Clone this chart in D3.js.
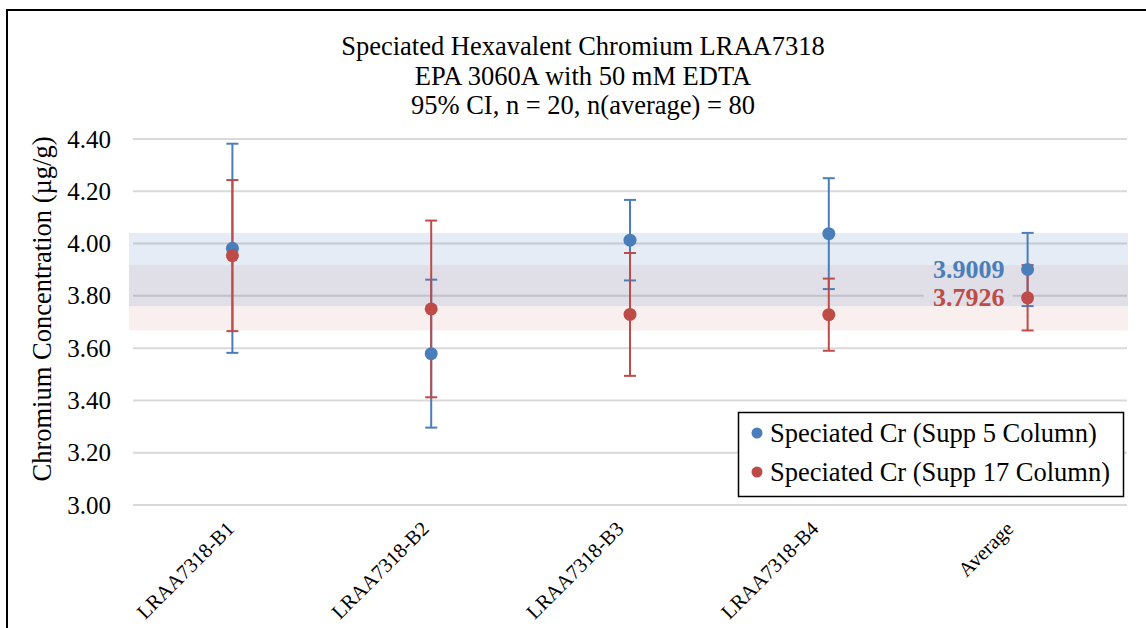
<!DOCTYPE html>
<html>
<head>
<meta charset="utf-8">
<script src="https://cdn.jsdelivr.net/npm/d3@7"></script>
<style>
  html, body { margin: 0; padding: 0; background: #fff; }
  svg { display: block; }
  svg text { font-family: "Liberation Serif", "Times New Roman", serif; }
</style>
</head>
<body>
<svg id="chart" width="1146" height="628"></svg>
<script>
// Sample batches plus the overall average
const categories = ["LRAA7318-B1", "LRAA7318-B2", "LRAA7318-B3", "LRAA7318-B4", "Average"];

// Speciated Cr, Supp 5 column: means and 95% CI half-widths (µg/g)
const supp5Mean = [3.982, 3.579, 4.013, 4.038, 3.9009];
const supp5Err  = [0.400, 0.283, 0.154, 0.212, 0.140];

// Speciated Cr, Supp 17 column
const supp17Mean = [3.954, 3.750, 3.729, 3.728, 3.7926];
const supp17Err  = [0.289, 0.338, 0.235, 0.138, 0.125];

const yTicks = [3.00, 3.20, 3.40, 3.60, 3.80, 4.00, 4.20, 4.40];
const titleLines = [
  "Speciated Hexavalent Chromium LRAA7318",
  "EPA 3060A with 50 mM EDTA",
  "95% CI, n = 20, n(average) = 80"
];
const yLabel = "Chromium Concentration (\u00B5g/g)";
const seriesNames = ["Speciated Cr (Supp 5 Column)", "Speciated Cr (Supp 17 Column)"];

const blue = "#4a7ebb", red = "#be4b48";
const serif = "Liberation Serif, Times New Roman, serif";

const svg = d3.select("#chart");
svg.append("rect").attr("width", 1146).attr("height", 628).attr("fill", "#fff");

// outer frame
svg.append("rect").attr("x", 7).attr("y", 10).attr("width", 1300).attr("height", 800)
  .attr("fill", "none").attr("stroke", "#000").attr("stroke-width", 2);

const x = d3.scaleBand().domain(categories).range([133, 1127]).padding(0);
const y = d3.scaleLinear().domain([3.0, 4.4]).range([505, 139]);
const cx = c => x(c) + x.bandwidth() / 2;

// title
svg.append("g").selectAll("text").data(titleLines).join("text")
  .attr("x", 583).attr("y", (d, i) => 55 + i * 29.5)
  .attr("text-anchor", "middle").attr("font-size", 26.5).attr("font-family", serif).attr("fill", "#000")
  .text(d => d);

// gridlines
svg.append("g").selectAll("line").data(yTicks).join("line")
  .attr("x1", 133).attr("x2", 1127)
  .attr("y1", d => y(d)).attr("y2", d => y(d))
  .attr("stroke", "#d9d9d9").attr("stroke-width", 2);

// y axis via d3.axisLeft, keeping only the labels
const yAxis = svg.append("g").attr("transform", "translate(111,0)")
  .call(d3.axisLeft(y).tickValues(yTicks).tickFormat(d3.format(".2f")).tickSize(0).tickPadding(0));
yAxis.attr("font-family", serif);
yAxis.select(".domain").remove();
yAxis.selectAll("text").attr("font-size", 25).attr("font-family", serif).attr("fill", "#000");

svg.append("text")
  .attr("transform", "translate(51,309) rotate(-90)")
  .attr("text-anchor", "middle").attr("font-size", 26.5).attr("font-family", serif).attr("fill", "#000")
  .text(yLabel);

// x axis labels, rotated
svg.append("g").selectAll("text").data(categories).join("text")
  .attr("transform", (d, i) => `translate(${cx(d) + 3 - 4 * i},530) rotate(-45)`)
  .attr("text-anchor", "end").attr("font-size", 20.5).attr("font-family", serif).attr("fill", "#000")
  .text(d => d);

// white backing behind the average value labels (hides gridline under text)
const avgI = categories.length - 1;
const avgX = cx(categories[avgI]);
svg.append("rect").attr("x", avgX - 104).attr("y", y(supp17Mean[avgI]) - 12)
  .attr("width", 89).attr("height", 24).attr("fill", "#fff");

// confidence bands of the averages (red first, blue over it)
svg.append("rect").attr("x", 129).attr("width", 999)
  .attr("y", y(supp17Mean[avgI] + supp17Err[avgI]))
  .attr("height", y(supp17Mean[avgI] - supp17Err[avgI]) - y(supp17Mean[avgI] + supp17Err[avgI]))
  .attr("fill", "rgba(192,80,77,0.09)");
svg.append("rect").attr("x", 129).attr("width", 999)
  .attr("y", y(supp5Mean[avgI] + supp5Err[avgI]))
  .attr("height", y(supp5Mean[avgI] - supp5Err[avgI]) - y(supp5Mean[avgI] + supp5Err[avgI]))
  .attr("fill", "rgba(79,129,189,0.15)");

const series = [
  { name: seriesNames[0], mean: supp5Mean, err: supp5Err, color: blue },
  { name: seriesNames[1], mean: supp17Mean, err: supp17Err, color: red }
];

// error bars
series.forEach(s => {
  const g = svg.append("g").attr("stroke", s.color).attr("stroke-width", 2);
  categories.forEach((c, i) => {
    const hi = y(s.mean[i] + s.err[i]), lo = y(s.mean[i] - s.err[i]), px = cx(c);
    g.append("line").attr("x1", px).attr("x2", px).attr("y1", hi).attr("y2", lo);
    g.append("line").attr("x1", px - 6).attr("x2", px + 6).attr("y1", hi).attr("y2", hi);
    g.append("line").attr("x1", px - 6).attr("x2", px + 6).attr("y1", lo).attr("y2", lo);
  });
});

// markers
series.forEach(s => {
  svg.append("g").selectAll("circle").data(categories).join("circle")
    .attr("cx", d => cx(d)).attr("cy", (d, i) => y(s.mean[i]))
    .attr("r", 6.5).attr("fill", s.color);
});

// average value labels
series.forEach(s => {
  svg.append("text")
    .attr("x", avgX - 23).attr("y", y(s.mean[avgI]) + 8.5)
    .attr("text-anchor", "end").attr("font-size", 26).attr("font-weight", "bold")
    .attr("font-family", serif).attr("fill", s.color)
    .text(s.mean[avgI].toFixed(4));
});

// legend
const lg = svg.append("g");
lg.append("rect").attr("x", 738.5).attr("y", 412.5).attr("width", 385).attr("height", 84)
  .attr("fill", "#fff").attr("stroke", "#000").attr("stroke-width", 1.5);
series.forEach((s, i) => {
  lg.append("circle").attr("cx", 757).attr("cy", 433 + i * 39).attr("r", 5.5).attr("fill", s.color);
  lg.append("text").attr("x", 770).attr("y", 442 + i * 39)
    .attr("font-size", 26.5).attr("font-family", serif).attr("fill", "#000").text(s.name);
});
</script>
</body>
</html>
